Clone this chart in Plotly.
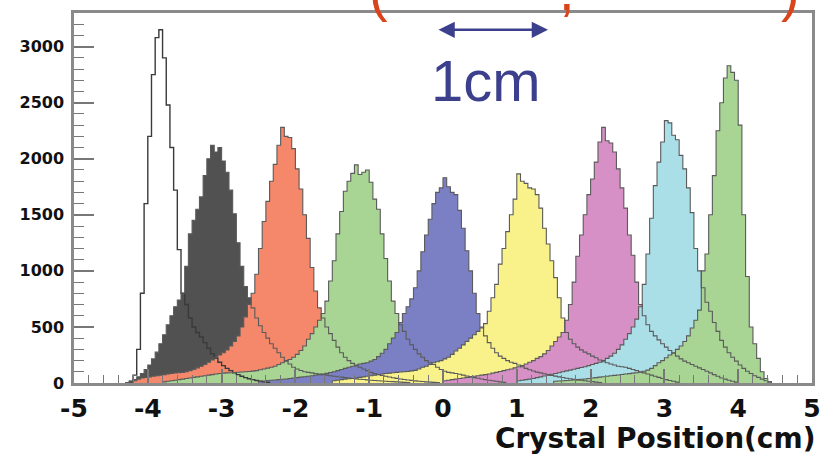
import plotly.graph_objects as go

# ---------------- data (histogram bin contents, bin width 0.05 cm) ----------------
BIN_WIDTH = 0.05

WHITE_START = -4.30
WHITE = [0, 15, 70, 300, 800, 1600, 2200, 2750, 3080, 3150, 2900, 2480, 2100, 1720, 1190, 800,
         700, 580, 500, 450, 410, 360, 310, 260, 220, 185, 155, 130, 110, 90, 75, 60, 48, 38,
         30, 22, 15, 10, 5]

BLACK_START = -4.30
BLACK = [5, 15, 30, 55, 85, 120, 160, 215, 275, 350, 430, 520, 600, 680, 740, 800, 1040, 1330,
         1450, 1550, 1660, 1850, 2000, 2120, 2060, 2100, 1980, 1880, 1720, 1510, 1250, 1040, 860,
         760, 670, 580, 510, 450, 400, 350, 310, 270, 230, 200, 170, 140, 125, 112, 100, 95, 90,
         85, 80, 75, 70, 65, 60, 56, 52, 48, 44, 40, 37, 34, 31, 28, 25, 22, 20, 18, 16, 14, 12,
         10, 8, 6, 4]

ORANGE_START = -4.20
ORANGE = [20, 35, 45, 50, 55, 60, 65, 70, 75, 80, 85, 90, 92, 95, 100, 110, 120, 135, 150, 165,
          185, 205, 225, 250, 270, 295, 330, 370, 420, 500, 590, 700, 800, 970, 1200, 1440, 1620,
          1800, 1950, 2120, 2280, 2200, 2190, 2090, 1910, 1730, 1500, 1290, 1030, 820, 670, 580,
          500, 440, 380, 320, 270, 230, 200, 175, 155, 140, 125, 110, 95, 85, 76, 68, 60, 53, 47,
          41, 36, 31, 27, 23, 19, 16, 13, 10, 8, 6, 4]

GREEN_START = -3.80
GREEN = [10, 15, 20, 25, 30, 35, 40, 45, 50, 55, 60, 65, 70, 75, 80, 85, 88, 90, 92, 94, 96, 98,
         100, 103, 106, 110, 118, 125, 133, 141, 150, 165, 180, 195, 210, 230, 255, 290, 330, 390,
         440, 500, 560, 620, 730, 910, 1090, 1330, 1530, 1710, 1800, 1870, 1945, 1860, 1880, 1900,
         1790, 1640, 1550, 1330, 1110, 910, 730, 620, 520, 460, 390, 340, 300, 260, 230, 200, 180,
         165, 140, 120, 105, 95, 90, 85, 78, 70, 62, 55, 48, 42, 36, 30, 25, 20, 15, 10, 6]

BLUE_START = -2.50
BLUE = [15, 18, 21, 24, 27, 30, 33, 36, 40, 44, 48, 52, 56, 60, 65, 70, 75, 80, 86, 93, 100, 110,
        120, 130, 140, 150, 160, 170, 175, 180, 195, 210, 235, 265, 300, 350, 400, 450, 540, 620,
        680, 750, 850, 1000, 1170, 1320, 1460, 1600, 1700, 1740, 1830, 1750, 1700, 1680, 1540,
        1380, 1180, 1000, 800, 620, 500, 420, 360, 310, 270, 240, 220, 200, 185, 175, 160, 145,
        130, 118, 107, 97, 90, 82, 75, 68, 61, 55, 49, 43, 38, 33, 28, 24, 20, 16, 12, 8, 5]

YELLOW_START = -1.50
YELLOW = [20, 25, 30, 35, 38, 40, 45, 50, 55, 60, 65, 70, 75, 80, 85, 88, 92, 95, 98, 100, 103,
          108, 113, 125, 140, 150, 165, 180, 190, 200, 215, 230, 255, 285, 310, 340, 370, 400, 430,
          460, 490, 530, 640, 760, 880, 1060, 1200, 1350, 1500, 1640, 1865, 1800, 1780, 1740, 1730,
          1680, 1560, 1380, 1240, 1090, 940, 760, 580, 450, 390, 350, 320, 295, 275, 260, 240, 225,
          205, 190, 180, 170, 160, 150, 145, 140, 130, 120, 110, 100, 90, 80, 70, 60, 50, 40, 30,
          22, 15, 8]

MAGENTA_START = 0.00
MAGENTA = [20, 25, 30, 35, 40, 45, 50, 55, 60, 65, 70, 75, 80, 88, 95, 103, 110, 118, 125, 135,
           145, 155, 170, 185, 200, 220, 235, 260, 290, 330, 370, 410, 450, 560, 700, 900, 1130,
           1320, 1500, 1680, 1820, 1970, 2150, 2280, 2160, 2140, 2060, 1910, 1740, 1560, 1320, 1140,
           900, 700, 600, 520, 460, 420, 385, 350, 320, 290, 265, 240, 215, 195, 180, 165, 150, 135,
           120, 105, 90, 75, 60, 45, 35, 25, 15, 8]

CYAN_START = 1.00
CYAN = [20, 25, 30, 35, 40, 48, 55, 62, 70, 78, 85, 92, 100, 108, 115, 122, 130, 138, 145, 155,
        165, 175, 185, 200, 220, 240, 265, 300, 340, 390, 440, 500, 570, 680, 880, 1150, 1470,
        1760, 1970, 2150, 2340, 2320, 2210, 2170, 2030, 1910, 1740, 1520, 1200, 1000, 850, 720,
        640, 540, 460, 380, 320, 270, 230, 195, 160, 130, 105, 85, 65, 50, 35, 20, 10]

GREEN2_START = 1.50
GREEN2 = [15, 18, 20, 22, 25, 28, 30, 33, 36, 40, 44, 48, 52, 56, 60, 64, 68, 72, 76, 80, 84, 88,
          92, 96, 105, 115, 130, 155, 180, 200, 225, 250, 270, 300, 330, 370, 420, 490, 560, 650,
          1000, 1150, 1500, 1850, 2250, 2500, 2720, 2830, 2770, 2700, 2300, 1500, 950, 500, 350,
          220, 100, 40, 10]

X_TICKS = [-5, -4, -3, -2, -1, 0, 1, 2, 3, 4, 5]
X_TICK_LABELS = ["-5", "-4", "-3", "-2", "-1", "0", "1", "2", "3", "4", "5"]
Y_TICKS = [0, 500, 1000, 1500, 2000, 2500, 3000]
Y_TICK_LABELS = ["0", "500", "1000", "1500", "2000", "2500", "3000"]

# ---------------- styling ----------------
HISTS = [
    (WHITE_START, WHITE, None),
    (BLACK_START, BLACK, "#515151"),
    (ORANGE_START, ORANGE, "#f5876b"),
    (GREEN_START, GREEN, "#a8d593"),
    (BLUE_START, BLUE, "#7a80c3"),
    (YELLOW_START, YELLOW, "#f9f28b"),
    (MAGENTA_START, MAGENTA, "#d690c6"),
    (CYAN_START, CYAN, "#aadfe8"),
    (GREEN2_START, GREEN2, "#a8d593"),
]


def step_xy(start, values):
    n = len(values)
    edges = [start + i * BIN_WIDTH for i in range(n + 1)]
    xs = [edges[0]] + edges[:n] + [edges[n]]
    ys = [0] + list(values) + [0]
    return xs, ys


fig = go.Figure()

# fills first
for start, vals, color in HISTS:
    if color is None:
        continue
    xs, ys = step_xy(start, vals)
    fig.add_trace(go.Scatter(x=xs, y=ys, mode="lines", line=dict(width=0, shape="hv"),
                             fill="tozeroy", fillcolor=color, hoverinfo="skip"))

# outlines on top
for start, vals, color in HISTS:
    xs, ys = step_xy(start, vals)
    fig.add_trace(go.Scatter(x=xs, y=ys, mode="lines",
                             line=dict(width=1.4 if color is None else 1.1,
                                       color="#3a3a3a" if color is None else "#5a5a5a",
                                       shape="hv"),
                             hoverinfo="skip"))

AX_COL = "#8a8a8a"
fig.update_layout(
    width=837, height=455,
    margin=dict(l=74, r=25, t=10, b=72),
    plot_bgcolor="white", paper_bgcolor="white",
    showlegend=False,
    xaxis=dict(range=[-5, 5], tickvals=X_TICKS, ticktext=X_TICK_LABELS,
               ticks="inside", ticklen=14, tickwidth=1.5, tickcolor="#777",
               minor=dict(dtick=0.2, ticks="inside", ticklen=8, tickcolor="#777", tickwidth=1.2),
               showline=True, mirror=True, linecolor=AX_COL, linewidth=2.5,
               showgrid=False, zeroline=False, ticklabelstandoff=1,
               tickfont=dict(family="DejaVu Sans", size=25, color="#111", weight="bold")),
    yaxis=dict(range=[0, 3300], tickvals=Y_TICKS, ticktext=Y_TICK_LABELS,
               ticks="inside", ticklen=20, tickwidth=1.5, tickcolor="#777",
               minor=dict(dtick=100, ticks="inside", ticklen=10, tickcolor="#777", tickwidth=1.2),
               showline=True, mirror=True, linecolor=AX_COL, linewidth=2.5,
               showgrid=False, zeroline=False, ticklabelstandoff=4,
               tickfont=dict(family="DejaVu Sans", size=16, color="#111", weight="bold")),
)

PLOT_L, PLOT_W, PLOT_B, PLOT_H = 74, 738, 383, 373


def px(xp):
    return (xp - PLOT_L) / PLOT_W


def py(yp):
    return (PLOT_B - yp) / PLOT_H


RED = "#d9441c"
BLUE_TXT = "#3b3f8c"
fig.add_annotation(text="Crystal Position(cm)", xref="paper", yref="paper", x=1, y=0,
                   xanchor="right", yanchor="middle", xshift=5, yshift=-55, showarrow=False,
                   font=dict(family="DejaVu Sans", size=28, color="#111", weight="bold"))
fig.add_annotation(text="1cm", xref="paper", yref="paper", x=px(486), y=py(78),
                   xanchor="center", yanchor="middle", showarrow=False,
                   font=dict(family="Liberation Sans", size=58, color=BLUE_TXT))
fig.add_annotation(text="", xref="paper", yref="paper", x=px(548), y=py(27),
                   ax=-111, ay=0, showarrow=True, arrowside="end+start", arrowhead=2,
                   arrowsize=1.3, arrowwidth=2.5, arrowcolor=BLUE_TXT)
for ch, xp in (("(", 378), (",", 567), (")", 790)):
    fig.add_annotation(text=ch, xref="paper", yref="paper", x=px(xp), y=py(-13),
                       xanchor="center", yanchor="middle", showarrow=False,
                       font=dict(family="Liberation Sans", size=56, color=RED))

fig.write_html("out.html")
